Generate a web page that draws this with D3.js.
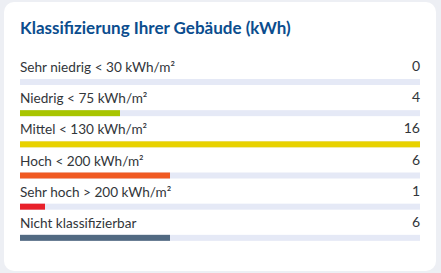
<!DOCTYPE html>
<html>
<head>
<meta charset="utf-8">
<script src="https://cdn.jsdelivr.net/npm/d3@7"></script>
<style>
  html, body { margin: 0; padding: 0; background: #edeff4; }
  svg { display: block; }
</style>
</head>
<body>
<svg id="chart" width="441" height="273"></svg>
<script>
'use strict';

// classes and building counts
const categories = [
    "Sehr niedrig < 30 kWh/m\u00b2",
    "Niedrig < 75 kWh/m\u00b2",
    "Mittel < 130 kWh/m\u00b2",
    "Hoch < 200 kWh/m\u00b2",
    "Sehr hoch > 200 kWh/m\u00b2",
    "Nicht klassifizierbar"
];
const counts = [0, 4, 16, 6, 1, 6];
const colors = ["#3f8f3a", "#a8c500", "#e8d200", "#f05a22", "#e8202a", "#526a82"];
const title = "Klassifizierung Ihrer Geb\u00e4ude (kWh)";

const svg = d3.select("#chart");
const font = "Lato, 'Noto Sans', sans-serif";

// card
svg.append("rect")
    .attr("x", 4).attr("y", 2)
    .attr("width", 432).attr("height", 269)
    .attr("rx", 10)
    .attr("fill", "#ffffff");

svg.append("text")
    .attr("x", 20).attr("y", 34)
    .attr("font-family", font)
    .attr("font-size", 17)
    .attr("font-weight", 700)
    .attr("fill", "#0b4d8e")
    .text(title);

let rows = categories.map((c, i) => ({ label: c, value: counts[i], color: colors[i] }));

let x = d3.scaleLinear()
    .domain([0, d3.max(counts)])
    .range([20, 420]);
let y = d3.scaleBand()
    .domain(categories)
    .range([55, 242]);

let g = svg.selectAll("g.row")
    .data(rows)
    .join("g")
    .attr("class", "row")
    .attr("transform", d => `translate(0,${y(d.label)})`);

g.append("text")
    .attr("x", 20).attr("y", 17)
    .attr("font-family", font)
    .attr("font-size", 13.6)
    .attr("fill", "#32363a")
    .text(d => d.label);

g.append("text")
    .attr("x", 420).attr("y", 16)
    .attr("text-anchor", "end")
    .attr("font-family", font)
    .attr("font-size", 14)
    .attr("fill", "#32363a")
    .text(d => d.value);

// track
g.append("rect")
    .attr("x", x(0)).attr("y", 24)
    .attr("width", x.range()[1] - x(0))
    .attr("height", 6)
    .attr("fill", "#e5e9f6");

g.append("rect")
    .attr("x", x(0)).attr("y", 24)
    .attr("width", d => x(d.value) - x(0))
    .attr("height", 6)
    .attr("fill", d => d.color);
</script>
</body>
</html>
